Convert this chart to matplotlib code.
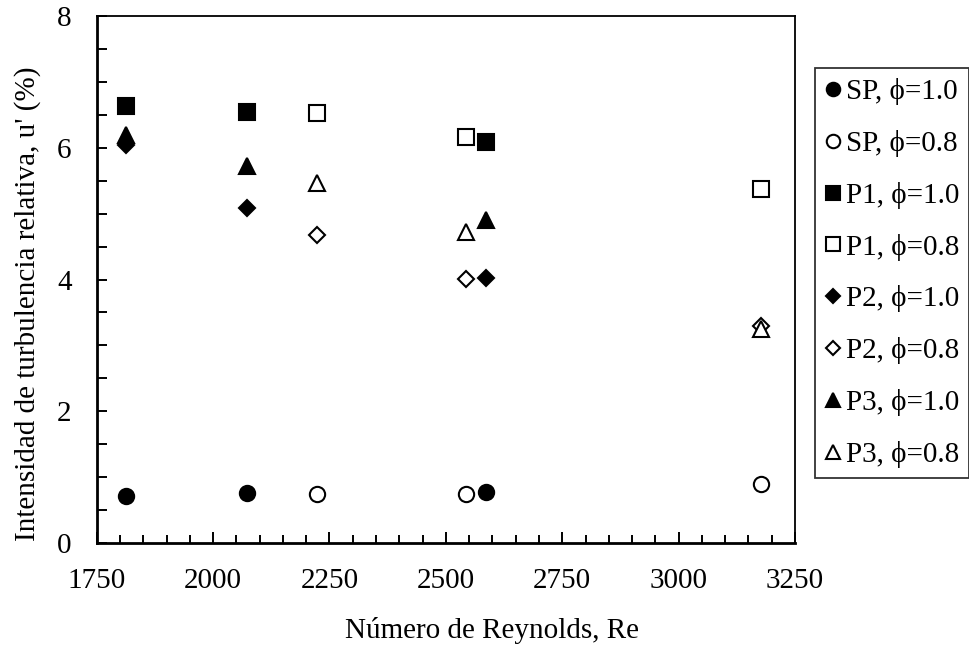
import matplotlib
matplotlib.use("Agg")
import matplotlib.pyplot as plt
from matplotlib.ticker import MultipleLocator

plt.rcParams['font.family'] = ['Liberation Serif', 'DejaVu Serif']

# Reynolds numbers for each equivalence ratio
re_phi10 = [1814, 2073, 2586]
re_phi08 = [2224, 2543, 3178]

# Relative turbulence intensity u' (%)
sp_phi10 = [0.72, 0.76, 0.78]
sp_phi08 = [0.74, 0.75, 0.89]
p1_phi10 = [6.63, 6.54, 6.08]
p1_phi08 = [6.52, 6.17, 5.38]
p2_phi10 = [6.04, 5.08, 4.02]
p2_phi08 = [4.67, 4.01, 3.30]
p3_phi10 = [6.20, 5.72, 4.91]
p3_phi08 = [5.46, 4.72, 3.25]

labels = ["SP, ϕ=1.0", "SP, ϕ=0.8", "P1, ϕ=1.0", "P1, ϕ=0.8",
          "P2, ϕ=1.0", "P2, ϕ=0.8", "P3, ϕ=1.0", "P3, ϕ=0.8"]

x_ticks = [1750, 2000, 2250, 2500, 2750, 3000, 3250]
y_ticks = [0, 2, 4, 6, 8]

W, H = 969, 656
fig = plt.figure(figsize=(W / 100, H / 100), dpi=100)
ax = fig.add_axes([96.7 / W, 1 - 543 / H, (795 - 96.7) / W, (543 - 16) / H])

series = [
    (re_phi10, sp_phi10, 'o', 'black', 11.0),
    (re_phi08, sp_phi08, 'o', 'white', 11.0),
    (re_phi10, p1_phi10, 's', 'black', 11.5),
    (re_phi08, p1_phi08, 's', 'white', 11.5),
    (re_phi10, p2_phi10, 'D', 'black', 8.4),
    (re_phi08, p2_phi08, 'D', 'white', 8.4),
    (re_phi10, p3_phi10, '^', 'black', 11.8),
    (re_phi08, p3_phi08, '^', 'white', 11.8),
]
for (xs, ys, mk, fc, ms), lab in zip(series, labels):
    ax.plot(xs, ys, linestyle='none', marker=mk, markersize=ms,
            markerfacecolor=fc, markeredgecolor='black',
            markeredgewidth=1.5, label=lab)

ax.set_xlim(1750, 3250)
ax.set_ylim(0, 8)
ax.set_xticks(x_ticks)
ax.set_xticklabels([str(v) for v in x_ticks])
ax.set_yticks(y_ticks)
ax.set_yticklabels([str(v) for v in y_ticks])
ax.xaxis.set_minor_locator(MultipleLocator(50))
ax.yaxis.set_minor_locator(MultipleLocator(0.5))

ax.tick_params(axis='both', which='both', direction='in', colors='black',
               labelsize=21, width=1.4, pad=18, top=False, right=False)
ax.tick_params(axis='x', which='major', length=8)
ax.tick_params(axis='x', which='minor', length=6)
ax.tick_params(axis='y', which='both', length=7)

for side in ['left', 'bottom']:
    ax.spines[side].set_linewidth(2.0)
for side in ['top', 'right']:
    ax.spines[side].set_linewidth(1.3)

fig.text(28 / W, 1 - 304 / H, "Intensidad de turbulencia relativa, u' (%)",
         rotation=90, ha='center', va='center', fontsize=21)
fig.text(492 / W, 1 - 630 / H, "Número de Reynolds, Re",
         ha='center', va='center', fontsize=21)

leg = fig.legend(loc='upper left', bbox_to_anchor=(815 / W, 1 - 68 / H),
                 bbox_transform=fig.transFigure, borderaxespad=0,
                 fontsize=21, frameon=True, fancybox=False, numpoints=1,
                 markerscale=0.88, handlelength=0.55, handletextpad=0.15,
                 labelspacing=0.85, borderpad=0.35)
leg.get_frame().set_edgecolor('black')
leg.get_frame().set_linewidth(1.3)

fig.savefig("out.png", dpi=100)
